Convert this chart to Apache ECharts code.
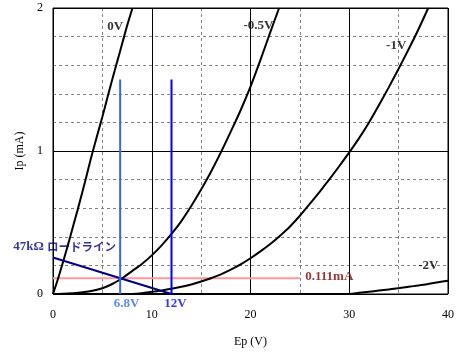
<!DOCTYPE html>
<html>
<head>
<meta charset="utf-8">
<script src="https://cdn.jsdelivr.net/npm/echarts@6.0.0/dist/echarts.min.js"></script>
<style>
  html, body { margin: 0; padding: 0; background: #fff; }
  #chart { width: 457px; height: 353px; }
</style>
</head>
<body>
<div id="chart"></div>
<script>
// plate curves [Ep (V), Ip (mA)] for each grid bias
const curve0V = [[0, 0], [0.5, 0.105], [1, 0.22], [1.5, 0.34], [2, 0.465], [2.5, 0.59], [3, 0.72], [3.5, 0.855],
    [4, 0.99], [4.5, 1.115], [5, 1.24], [5.5, 1.37], [6, 1.5], [6.5, 1.625], [7, 1.75], [7.5, 1.875], [8.05, 2.0]];
const curveM05V = [[0, 0], [1, 0.002], [2, 0.006], [3, 0.012], [4, 0.022], [5, 0.04], [6, 0.07], [7, 0.11],
    [8, 0.16], [9, 0.21], [10, 0.27], [11, 0.34], [12, 0.42], [13, 0.51], [14, 0.615], [15, 0.73], [16, 0.855],
    [17, 0.99], [18, 1.135], [19, 1.285], [20, 1.45], [21, 1.635], [22, 1.83], [22.9, 2.0]];
const curveM1V = [[0, 0], [8, 0], [9, 0.005], [10, 0.015], [11, 0.025], [12, 0.036], [13, 0.05], [14, 0.067],
    [15, 0.087], [16, 0.11], [17, 0.137], [18, 0.17], [19, 0.207], [20, 0.25], [21, 0.298], [22, 0.35], [23, 0.408],
    [24, 0.472], [25, 0.547], [26, 0.63], [27, 0.715], [28, 0.803], [29, 0.895], [30, 0.99], [31, 1.09], [32, 1.2],
    [33, 1.32], [34, 1.445], [35, 1.575], [36, 1.71], [37, 1.85], [38, 2.0]];
const curveM2V = [[0, 0], [30, 0], [31, 0.008], [32, 0.016], [33, 0.024], [34, 0.032], [35, 0.04], [36, 0.05],
    [37, 0.06], [38, 0.07], [39, 0.082], [40, 0.093]];

// 47k load line, operating point and markers
const loadLine = [[0, 0.255], [12, 0]];
const opCurrent = [[0, 0.111], [25, 0.111]];
const opVoltageLine = [[6.8, 0], [6.8, 1.5]];
const supplyLine = [[12, 0], [12, 1.5]];

const xTicks = [0, 10, 20, 30, 40];
const yTicks = [0, 1, 2];

const serif = "'Liberation Serif', 'Times New Roman', serif";
const chart = echarts.init(document.getElementById('chart'));

function curve(data, color) {
    return {
        type: 'line', data: data, showSymbol: false, smooth: 0.3, silent: true,
        lineStyle: { color: color, width: 2 }, xAxisIndex: 1, yAxisIndex: 1, z: 3
    };
}

function note(text, x, y, color, extra) {
    return Object.assign({
        value: [x, y],
        label: { show: true, position: 'inside', formatter: text, color: color,
            fontFamily: serif, fontWeight: 'bold', fontSize: 13 }
    }, extra || {});
}

chart.setOption({
    animation: false,
    grid: { left: 53, right: 7, top: 8, bottom: 59, show: true, borderColor: '#000', borderWidth: 1,
        backgroundColor: 'transparent' },
    xAxis: [
        { type: 'value', min: 0, max: 40, interval: 5, z: 0,
          axisLine: { show: false }, axisTick: { show: false }, axisLabel: { show: false },
          splitLine: { lineStyle: { color: '#808080', type: [3, 3], width: 1 } } },
        { type: 'value', min: 0, max: 40, interval: 10, position: 'bottom', z: 1,
          axisLine: { show: false }, axisTick: { show: false },
          axisLabel: { margin: 15, color: '#000', fontFamily: serif, fontSize: 12,
              formatter: v => xTicks.includes(v) ? String(v) : '' },
          splitLine: { lineStyle: { color: '#000', width: 1 } },
          name: 'Ep (V)', nameLocation: 'middle', nameGap: 42,
          nameTextStyle: { color: '#000', fontFamily: serif, fontSize: 12 } }
    ],
    yAxis: [
        { type: 'value', min: 0, max: 2, interval: 0.2, z: 0,
          axisLine: { show: false }, axisTick: { show: false }, axisLabel: { show: false },
          splitLine: { lineStyle: { color: '#808080', type: [3, 3], width: 1 } } },
        { type: 'value', min: 0, max: 2, interval: 1, position: 'left', z: 1,
          axisLine: { show: false }, axisTick: { show: false },
          axisLabel: { margin: 10, color: '#000', fontFamily: serif, fontSize: 12,
              formatter: v => yTicks.includes(v) ? String(v) : '' },
          splitLine: { lineStyle: { color: '#000', width: 1 } },
          name: 'Ip (mA)', nameLocation: 'middle', nameGap: 20,
          nameTextStyle: { color: '#000', fontFamily: serif, fontSize: 12 } }
    ],
    series: [
        curve(curve0V, '#000'),
        curve(curveM05V, '#000'),
        curve(curveM1V, '#000'),
        curve(curveM2V, '#000'),
        Object.assign(curve(opCurrent, '#ff9999'), { smooth: false, z: 2 }),
        Object.assign(curve(loadLine, '#000080'), { smooth: false, z: 4 }),
        Object.assign(curve(opVoltageLine, '#3366ff'), { smooth: false, z: 4 }),
        Object.assign(curve(supplyLine, '#0000ff'), { smooth: false, z: 4 }),
        {
            type: 'scatter', symbolSize: 0, clip: false, silent: true, xAxisIndex: 1, yAxisIndex: 1, z: 5,
            data: [
                note('0V', 6.3, 1.87, '#000'),
                note('-0.5V', 20.8, 1.875, '#000'),
                note('-1V', 34.75, 1.735, '#000'),
                note('-2V', 38.0, 0.195, '#000'),
                note('0.111mA', 27.98, 0.118, '#800000'),
                note('6.8V', 7.44, -0.065, '#3366ff'),
                note('12V', 12.4, -0.065, '#0000ff'),
                note('', 1.18, 0.331, '#000080', {
                    label: { show: true, position: 'inside', formatter: '{a|47kΩ}{b|ロードライン}',
                        rich: {
                            a: { fontFamily: serif, fontWeight: 'bold', fontSize: 13, color: '#000080' },
                            b: { fontFamily: "'Noto Sans CJK JP', sans-serif", fontWeight: 'bold',
                                 fontSize: 11.5, color: '#000080', padding: [0, 0, 0, 3] }
                        } }
                })
            ]
        }
    ]
});
</script>
</body>
</html>
